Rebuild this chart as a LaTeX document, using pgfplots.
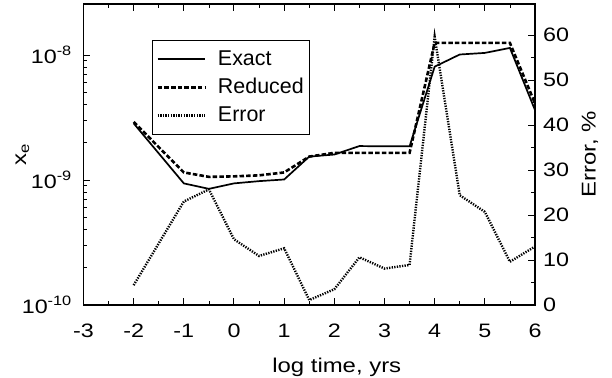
\documentclass[border=0pt]{standalone}
\usepackage{fontspec}
\setmainfont{Liberation Sans}[FakeStretch=1.2]
\newfontfamily\legfont{Liberation Sans}
\usepackage{pgfplots}
\pgfplotsset{compat=1.18}
\begin{document}
\fontsize{19.5}{23.4}\selectfont
\begin{tikzpicture}
\useasboundingbox (-83.5bp,-73bp) rectangle (528.5bp,305bp);
\pgfplotsset{
  common/.style={
    at={(0,0)}, anchor=south west,
    scale only axis, width=451.5bp, height=301bp,
    xmin=-3, xmax=6,
    /pgf/number format/assume math mode=true,
    axis line style={line width=1.2bp,-},
    major tick length=7bp, minor tick length=4bp,
    every tick/.style={black, line width=1bp},
    every minor tick/.style={black, line width=0.8bp},
  }
}
\begin{axis}[common,
  ymode=log, ymin=1e-10, ymax=2.56e-8,
  xtick={-3,-2,...,6}, minor x tick num=1, xtick pos=both, ytick pos=left,
  ytick={1e-10,1e-9,1e-8},
  yticklabels={10\textsuperscript{-10},10\textsuperscript{-9},10\textsuperscript{-8}},
  xticklabel style={yshift=-12bp},
  yticklabel style={xshift=-5bp},
  xlabel={log time, yrs}, ylabel={x\textsubscript{e}},
  xlabel style={at={(axis description cs:0.561,0)}, anchor=north, yshift=-46bp, font=\fontsize{20}{24}\selectfont},
  ylabel style={at={(axis description cs:0,0.5)}, anchor=center, yshift=61bp, font=\fontsize{20}{24}\selectfont},
]
\addplot[black, line width=1.7bp] coordinates {
(-2,2.84e-9) (-1,9.4e-10) (-0.5,8.5e-10) (0,9.4e-10) (0.5,9.8e-10) (1,1.01e-9)
(1.5,1.54e-9) (2,1.6e-9) (2.5,1.87e-9) (3,1.86e-9) (3.5,1.86e-9) (4,8.07e-9)
(4.5,1.01e-8) (5,1.04e-8) (5.5,1.14e-8) (6,3.63e-9)};
\addplot[black, line width=2.6bp, dash pattern=on 4.5bp off 2.2bp] coordinates {
(-2,2.92e-9) (-1,1.15e-9) (-0.5,1.06e-9) (0,1.07e-9) (0.5,1.09e-9) (1,1.15e-9)
(1.5,1.54e-9) (2,1.65e-9) (2.5,1.65e-9) (3,1.65e-9) (3.5,1.65e-9) (4,1.25e-8)
(4.5,1.25e-8) (5,1.25e-8) (5.5,1.25e-8) (6,4.1e-9)};
\end{axis}
\begin{axis}[common,
  ymin=0, ymax=66.9,
  axis x line=none, axis y line*=right,
  ytick={0,10,...,60}, minor y tick num=1,
  yticklabel style={xshift=1.5bp},
  ylabel={Error, \%},
  ylabel style={at={(axis description cs:1,0.5)}, anchor=center, yshift=-55bp, font=\fontsize{20}{24}\selectfont},
  legend style={at={(0.1517,0.880)}, anchor=north west, draw=black, line width=0.8bp,
    fill=white, inner xsep=4bp, inner ysep=8bp, row sep=6bp,
    font=\legfont,
    /tikz/every odd column/.append style={column sep=10bp}},
  legend cell align=left,
  legend image code/.code={\draw[#1] (0bp,0bp) -- (47bp,0bp);},
]
\addlegendimage{black, line width=2.2bp}
\addlegendentry{\fontsize{21.5}{25}\selectfont Exact}
\addlegendimage{black, line width=2.6bp, dash pattern=on 4.5bp off 2.2bp}
\addlegendentry{\fontsize{21.5}{25}\selectfont Reduced}
\addplot[black, line width=2.4bp, dash pattern=on 1.3bp off 1.3bp] coordinates {
(-2,4.4) (-1,23.0) (-0.5,25.7) (0,14.6) (0.5,10.9) (1,12.6) (1.5,1.1) (2,3.5)
(2.5,10.6) (3,8.1) (3.5,8.9) (4,59.6) (4.5,24.4) (5,20.7) (5.5,9.6) (6,13.0)};
\addlegendentry{\fontsize{21.5}{25}\selectfont Error}
\end{axis}
\end{tikzpicture}
\end{document}
